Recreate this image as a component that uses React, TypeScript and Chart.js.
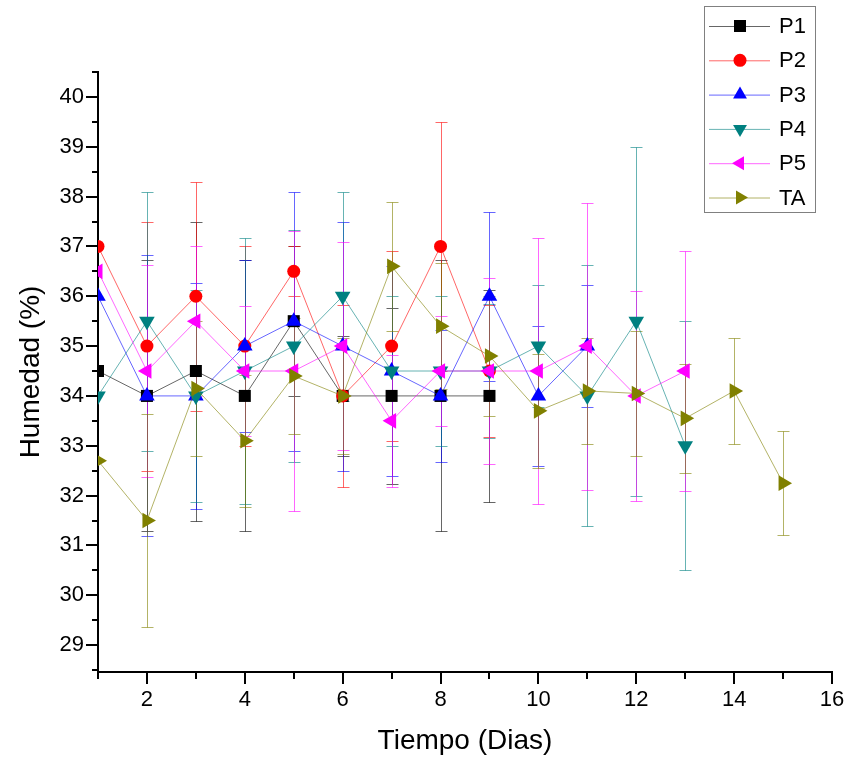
import React, { useEffect, useRef } from 'react';
import { Chart, registerables } from 'chart.js';

Chart.register(...registerables);

// ---- data ----
const DAYS = [1, 2, 3, 4, 5, 6, 7, 8, 9, 10, 11, 12, 13, 14, 15];

const P1 = [34.5, 34, 34.5, 34, 35.5, 34, 34, 34, 34];
const P1_ERR = [null, 2.72, 3.0, 2.72, 1.5, 1.21, 1.77, 2.72, 2.12];

const P2 = [37, 35, 36, 35, 36.5, 34, 35, 37, 34.5];
const P2_ERR = [null, 2.5, 2.3, 2.0, 0.5, 1.82, 1.9, 2.5, 1.33];

const P3 = [36, 34, 34, 35, 35.5, 35, 34.5, 34, 36, 34, 35];
const P3_ERR = [null, 2.82, 2.27, 1.73, 2.6, 2.5, 2.1, 1.32, 1.7, 1.41, 1.23];

const P4 = [34, 35.5, 34, 34.5, 35, 36, 34.5, 34.5, 34.5, 35, 34, 35.5, 33];
const P4_ERR = [null, 2.6, 2.12, 2.67, 2.32, 2.1, 1.5, 1.5, 1.35, 1.23, 2.62, 3.5, 2.5];

const P5 = [36.5, 34.5, 35.5, 34.5, 34.5, 35, 33.5, 34.5, 34.5, 34.5, 35, 34, 34.5];
const P5_ERR = [null, 2.12, 1.5, 1.3, 2.8, 2.08, 1.32, 1.11, 1.87, 2.67, 2.88, 2.1, 2.4];

const TA = [32.7, 31.5, 34.15, 33.1, 34.4, 34, 36.6, 35.4, 34.8, 33.7, 34.1, 34.05, 33.55, 34.1, 32.25];
const TA_ERR = [null, 2.14, 1.35, 1.32, 1.17, 1.17, 1.3, 1.27, 1.2, 1.14, 1.07, 1.25, 1.1, 1.06, 1.05];

const SERIES_LABELS = ['P1', 'P2', 'P3', 'P4', 'P5', 'TA'];
const SERIES_VALUES = [P1, P2, P3, P4, P5, TA];
const SERIES_ERRORS = [P1_ERR, P2_ERR, P3_ERR, P4_ERR, P5_ERR, TA_ERR];

const X_MIN = 1;
const X_MAX = 16;
const Y_MIN = 28.46;
const Y_MAX = 40.5;
const X_TICK_VALUES = [1, 2, 3, 4, 5, 6, 7, 8, 9, 10, 11, 12, 13, 14, 15, 16];
const Y_TICK_VALUES = [29, 30, 31, 32, 33, 34, 35, 36, 37, 38, 39, 40];

const X_TITLE = 'Tiempo (Dias)';
const Y_TITLE = 'Humedad (%)';

// ---- styles ----
const RGB = ['0,0,0', '255,0,0', '0,0,255', '0,128,128', '255,0,255', '128,128,0'];
const POINT_STYLES = ['rect', 'circle', 'triangle', 'triangle', 'triangle', 'triangle'];
const ROTATIONS = [0, 0, 0, 180, -90, 90];
const RADII = [8.5, 6.5, 9, 9, 9, 9];
const FONT = '"Liberation Sans", Arial, sans-serif';

function drawMarker(ctx: CanvasRenderingContext2D, style: string, rot: number, x: number, y: number, r: number) {
  ctx.beginPath();
  if (style === 'circle') {
    ctx.arc(x, y, r, 0, Math.PI * 2);
  } else if (style === 'rect') {
    const s = r * Math.SQRT1_2;
    ctx.rect(x - s, y - s, 2 * s, 2 * s);
  } else {
    let rad = (rot * Math.PI) / 180;
    for (let k = 0; k < 3; k++) {
      const px = x + Math.sin(rad) * r;
      const py = y - Math.cos(rad) * r;
      if (k === 0) ctx.moveTo(px, py);
      else ctx.lineTo(px, py);
      rad += (2 * Math.PI) / 3;
    }
    ctx.closePath();
  }
  ctx.fill();
}

const errorBarPlugin = {
  id: 'errorBars',
  beforeDatasetsDraw(chart: any) {
    const { ctx, chartArea, scales } = chart;
    const xs = scales.x;
    const ys = scales.y;
    ctx.save();
    ctx.beginPath();
    ctx.rect(chartArea.left, chartArea.top, chartArea.right - chartArea.left, chartArea.bottom - chartArea.top);
    ctx.clip();
    ctx.lineWidth = 1;
    chart.data.datasets.forEach((ds: any) => {
      const errs = ds.errors;
      if (!errs) return;
      ctx.strokeStyle = ds.errorColor;
      ds.data.forEach((pt: any, i: number) => {
        const e = errs[i];
        if (e == null) return;
        const px = Math.round(xs.getPixelForValue(pt.x)) + 0.5;
        const yt = Math.round(ys.getPixelForValue(pt.y + e)) + 0.5;
        const yb = Math.round(ys.getPixelForValue(pt.y - e)) + 0.5;
        ctx.beginPath();
        ctx.moveTo(px, yt);
        ctx.lineTo(px, yb);
        ctx.moveTo(px - 6, yt);
        ctx.lineTo(px + 6, yt);
        ctx.moveTo(px - 6, yb);
        ctx.lineTo(px + 6, yb);
        ctx.stroke();
      });
    });
    ctx.restore();
  },
};

const axisTicksPlugin = {
  id: 'axisTicks',
  afterDraw(chart: any) {
    const { ctx, chartArea, scales } = chart;
    const xs = scales.x;
    const ys = scales.y;
    ctx.save();
    ctx.strokeStyle = '#000';
    ctx.lineWidth = 2;
    const start = Math.ceil(ys.min * 2) / 2;
    for (let v = start; v <= ys.max + 1e-9; v += 0.5) {
      const py = Math.round(ys.getPixelForValue(v));
      const major = Math.abs(v - Math.round(v)) < 1e-6;
      const len = major ? 12 : 6;
      ctx.beginPath();
      ctx.moveTo(chartArea.left - len, py);
      ctx.lineTo(chartArea.left, py);
      ctx.stroke();
    }
    for (let v = Math.ceil(xs.min); v <= xs.max; v += 1) {
      const px = Math.round(xs.getPixelForValue(v));
      const len = v % 2 === 0 ? 12 : 7;
      ctx.beginPath();
      ctx.moveTo(px, chartArea.bottom);
      ctx.lineTo(px, chartArea.bottom + len);
      ctx.stroke();
    }
    ctx.restore();
  },
};

const legendPlugin = {
  id: 'boxLegend',
  afterDraw(chart: any) {
    const { ctx } = chart;
    const boxL = 704, boxT = 6, boxW = 111, boxH = 206;
    ctx.save();
    ctx.strokeStyle = '#808080';
    ctx.lineWidth = 1;
    ctx.strokeRect(boxL + 0.5, boxT + 0.5, boxW, boxH);
    chart.data.datasets.forEach((ds: any, i: number) => {
      const cy = 26 + i * 34.3;
      ctx.strokeStyle = ds.borderColor;
      ctx.lineWidth = 1;
      ctx.beginPath();
      ctx.moveTo(709, cy + 0.5);
      ctx.lineTo(770, cy + 0.5);
      ctx.stroke();
      ctx.fillStyle = ds.pointBackgroundColor;
      const r = POINT_STYLES[i] === 'rect' ? 8.5 : POINT_STYLES[i] === 'circle' ? 6.5 : 8;
      drawMarker(ctx, POINT_STYLES[i], ROTATIONS[i], 740, cy, r);
      ctx.fillStyle = '#000';
      ctx.font = `22px ${FONT}`;
      ctx.textBaseline = 'middle';
      ctx.textAlign = 'left';
      ctx.fillText(ds.label, 779, cy + 1);
    });
    ctx.restore();
  },
};

export default function App() {
  const canvasRef = useRef<HTMLCanvasElement | null>(null);

  useEffect(() => {
    if (!canvasRef.current) return;
    const datasets = SERIES_LABELS.map((label, i) => ({
      label,
      data: SERIES_VALUES[i].map((v, j) => ({ x: DAYS[j], y: v })),
      errors: SERIES_ERRORS[i],
      errorColor: `rgba(${RGB[i]},0.6)`,
      borderColor: `rgba(${RGB[i]},0.6)`,
      borderWidth: 1,
      backgroundColor: `rgb(${RGB[i]})`,
      pointBackgroundColor: `rgb(${RGB[i]})`,
      pointBorderColor: `rgb(${RGB[i]})`,
      pointBorderWidth: 0,
      pointStyle: POINT_STYLES[i],
      pointRotation: ROTATIONS[i],
      pointRadius: RADII[i],
      pointHoverRadius: RADII[i],
      tension: 0,
      fill: false,
      order: SERIES_LABELS.length - i,
    }));

    const chart = new Chart(canvasRef.current, {
      type: 'line',
      data: { datasets } as any,
      options: {
        animation: false,
        responsive: false,
        maintainAspectRatio: false,
        devicePixelRatio: 1,
        events: [],
        layout: { padding: { left: 0, top: 72, right: 16, bottom: 0 } },
        plugins: {
          legend: { display: false },
          tooltip: { enabled: false },
        },
        scales: {
          x: {
            type: 'linear',
            min: X_MIN,
            max: X_MAX,
            afterBuildTicks: (s: any) => {
              s.ticks = X_TICK_VALUES.map((v) => ({ value: v }));
            },
            afterFit: (s: any) => {
              s.height = 85;
              s.paddingRight = 0;
              s.paddingLeft = 0;
            },
            grid: { display: false, drawTicks: false },
            border: { display: true, color: '#000', width: 2 },
            ticks: {
              autoSkip: false,
              maxRotation: 0,
              padding: 15,
              color: '#000',
              font: { family: FONT, size: 22 },
              callback: (v: any) => (Number(v) % 2 === 0 ? String(v) : ''),
            },
            title: {
              display: true,
              text: X_TITLE,
              color: '#000',
              font: { family: FONT, size: 28, lineHeight: 1.1 },
              padding: { top: 0, bottom: 0 },
            },
          },
          y: {
            type: 'linear',
            min: Y_MIN,
            max: Y_MAX,
            afterBuildTicks: (s: any) => {
              s.ticks = Y_TICK_VALUES.map((v) => ({ value: v }));
            },
            afterFit: (s: any) => {
              s.width = 98;
              s.paddingTop = 0;
              s.paddingBottom = 0;
            },
            grid: { display: false, drawTicks: false },
            border: { display: true, color: '#000', width: 2 },
            ticks: {
              autoSkip: false,
              padding: 14,
              color: '#000',
              font: { family: FONT, size: 22 },
              callback: (v: any) => String(v),
            },
            title: {
              display: true,
              text: Y_TITLE,
              color: '#000',
              font: { family: FONT, size: 28, lineHeight: 1.1 },
              padding: { top: 16, bottom: 0 },
            },
          },
        },
      } as any,
      plugins: [errorBarPlugin, axisTicksPlugin, legendPlugin],
    });
    return () => chart.destroy();
  }, []);

  return (
    <div style={{ position: 'absolute', left: 0, top: 0, width: 848, height: 757, background: '#fff' }}>
      <canvas ref={canvasRef} width={848} height={757} style={{ display: 'block', width: 848, height: 757 }} />
    </div>
  );
}
